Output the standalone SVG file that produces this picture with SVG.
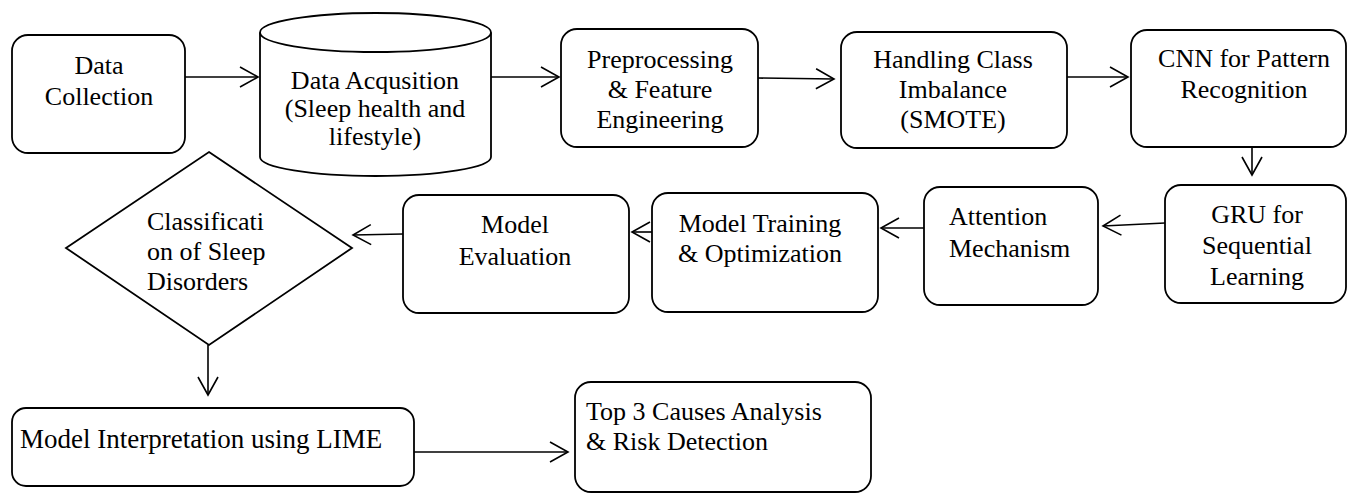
<svg xmlns="http://www.w3.org/2000/svg" width="1347" height="495" viewBox="0 0 1347 495" font-family="'Liberation Serif', 'DejaVu Serif', serif">
<style>
.box{fill:#fff;stroke:#000;stroke-width:1.8}
.t{font-family:'Liberation Serif', 'DejaVu Serif', serif;font-size:26px;fill:#000;text-anchor:middle}
.s{text-anchor:start}
.c{stroke:#000;stroke-width:1.6;fill:none;marker-end:url(#ah)}
</style>
<defs>
<marker id="ah" markerUnits="userSpaceOnUse" viewBox="-20 -12 22 24" refX="0" refY="0" markerWidth="22" markerHeight="24" orient="auto">
<path d="M-18,-10 L0,0 L-18,10" fill="none" stroke="#000" stroke-width="1.6"/>
</marker>
</defs>
<rect width="1347" height="495" fill="#fff"/>
<g id="connectors">
<line class="c" x1="185" y1="77" x2="258" y2="77"/>
<line class="c" x1="491" y1="77" x2="559" y2="77"/>
<line class="c" x1="758" y1="78" x2="834" y2="79"/>
<line class="c" x1="1067" y1="77" x2="1128" y2="77"/>
<line class="c" x1="1252" y1="138" x2="1252" y2="175"/>
<line class="c" x1="1165" y1="223" x2="1103" y2="226"/>
<line class="c" x1="924" y1="228" x2="881" y2="228"/>
<line class="c" x1="652" y1="232" x2="632" y2="232"/>
<line class="c" x1="403" y1="234" x2="353" y2="235"/>
<line class="c" x1="208" y1="345" x2="208" y2="395"/>
<line class="c" x1="414" y1="452" x2="568" y2="452"/>
</g>
<g id="data-collection">
<rect class="box" x="12" y="35" width="173" height="118" rx="16"/>
<text class="t"><tspan x="99" y="74">Data</tspan><tspan x="99" y="105">Collection</tspan></text>
</g>
<g id="data-acquisition">
<path class="box" d="M260,32.5 L260,157 A115.5,19 0 0,0 491,157 L491,32.5"/>
<ellipse class="box" cx="375.5" cy="32.5" rx="115.5" ry="19.5"/>
<text class="t"><tspan x="375" y="89">Data Acqusition</tspan><tspan x="375" y="117">(Sleep health and</tspan><tspan x="375" y="145">lifestyle)</tspan></text>
</g>
<g id="preprocessing">
<rect class="box" x="561" y="29" width="197" height="118" rx="16"/>
<text class="t"><tspan x="660" y="68">Preprocessing</tspan><tspan x="660" y="98">&amp; Feature</tspan><tspan x="660" y="128">Engineering</tspan></text>
</g>
<g id="handling-imbalance">
<rect class="box" x="841" y="32" width="226" height="116" rx="16"/>
<text class="t"><tspan x="953" y="68">Handling Class</tspan><tspan x="953" y="98">Imbalance</tspan><tspan x="953" y="128">(SMOTE)</tspan></text>
</g>
<g id="cnn">
<rect class="box" x="1131" y="30" width="215" height="117" rx="16"/>
<text class="t"><tspan x="1244" y="67">CNN for Pattern</tspan><tspan x="1244" y="98">Recognition</tspan></text>
</g>
<g id="gru">
<rect class="box" x="1165" y="185" width="181" height="118" rx="16"/>
<text class="t"><tspan x="1257" y="223">GRU for</tspan><tspan x="1257" y="254">Sequential</tspan><tspan x="1257" y="285">Learning</tspan></text>
</g>
<g id="attention">
<rect class="box" x="924" y="187" width="174" height="118" rx="16"/>
<text class="t s"><tspan x="949" y="225">Attention</tspan><tspan x="949" y="257">Mechanism</tspan></text>
</g>
<g id="model-training">
<rect class="box" x="652" y="193" width="226" height="119" rx="16"/>
<text class="t"><tspan x="760" y="232">Model Training</tspan><tspan x="760" y="262">&amp; Optimization</tspan></text>
</g>
<g id="model-evaluation">
<rect class="box" x="403" y="195" width="226" height="118" rx="16"/>
<text class="t"><tspan x="515" y="233">Model</tspan><tspan x="515" y="265">Evaluation</tspan></text>
</g>
<g id="classification">
<polygon class="box" points="209,152 352,248 209,345 66,248"/>
<text class="t s"><tspan x="147" y="230">Classificati</tspan><tspan x="147" y="260">on of Sleep</tspan><tspan x="147" y="290">Disorders</tspan></text>
</g>
<g id="lime">
<rect class="box" x="12" y="408" width="402" height="78" rx="14"/>
<text class="t s" x="20" y="448" style="font-size:27px">Model Interpretation using LIME</text>
</g>
<g id="top3">
<rect class="box" x="575" y="382" width="296" height="110" rx="16"/>
<text class="t s"><tspan x="586" y="420">Top 3 Causes Analysis</tspan><tspan x="586" y="450">&amp; Risk Detection</tspan></text>
</g>
</svg>
